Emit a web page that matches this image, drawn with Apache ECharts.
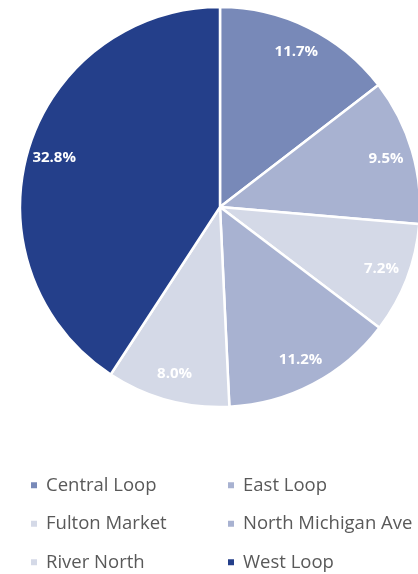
<!DOCTYPE html>
<html>
<head>
<meta charset="utf-8">
<script src="https://cdn.jsdelivr.net/npm/echarts@6/dist/echarts.min.js"></script>
<style>
  html, body { margin: 0; padding: 0; background: #fff; }
  #chart { width: 418px; height: 574px; }
</style>
</head>
<body>
<div id="chart"></div>
<script>
// Submarket shares
const submarkets = ['Central Loop', 'East Loop', 'Fulton Market', 'North Michigan Ave', 'River North', 'West Loop'];
const shares = [11.7, 9.5, 7.2, 11.2, 8.0, 32.8];
const sliceColors = ['#7889b8', '#a8b2d1', '#d4d9e7', '#a8b2d1', '#d4d9e7', '#243f8a'];

const pieData = submarkets.map((name, i) => ({
  name: name,
  value: shares[i],
  itemStyle: { color: sliceColors[i] }
}));

const font = '"Open Sans", "Noto Sans", sans-serif';
const chart = echarts.init(document.getElementById('chart'), null, { renderer: 'canvas' });

chart.setOption({
  backgroundColor: '#ffffff',
  animation: false,
  legend: {
    data: submarkets,
    left: 29,
    top: 471,
    width: 400,
    padding: 0,
    orient: 'horizontal',
    itemWidth: 8,
    itemHeight: 8,
    itemGap: 10,
    icon: 'rect',
    textStyle: {
      color: '#595959',
      fontFamily: font,
      fontSize: 18.5,
      width: 170,
      lineHeight: 28.5,
      padding: [0, 0, 0, 3]
    }
  },
  series: [
    {
      // slices
      type: 'pie',
      center: [220, 207],
      radius: [0, 200],
      startAngle: 90,
      clockwise: true,
      label: { show: false },
      labelLine: { show: false },
      itemStyle: { borderColor: '#ffffff', borderWidth: 2.5 },
      emphasis: { disabled: true },
      data: pieData
    },
    {
      // value labels placed near the outer edge of each slice
      type: 'pie',
      silent: true,
      center: [220, 207],
      radius: [140, 200],
      startAngle: 90,
      clockwise: true,
      itemStyle: { color: 'rgba(0,0,0,0)', borderWidth: 0 },
      label: {
        show: true,
        position: 'inside',
        color: '#ffffff',
        fontFamily: font,
        fontWeight: 'bold',
        fontSize: 15,
        formatter: p => p.value.toFixed(1) + '%'
      },
      labelLine: { show: false },
      emphasis: { disabled: true },
      data: submarkets.map((name, i) => ({ name: name, value: shares[i] }))
    }
  ]
});
</script>
</body>
</html>
